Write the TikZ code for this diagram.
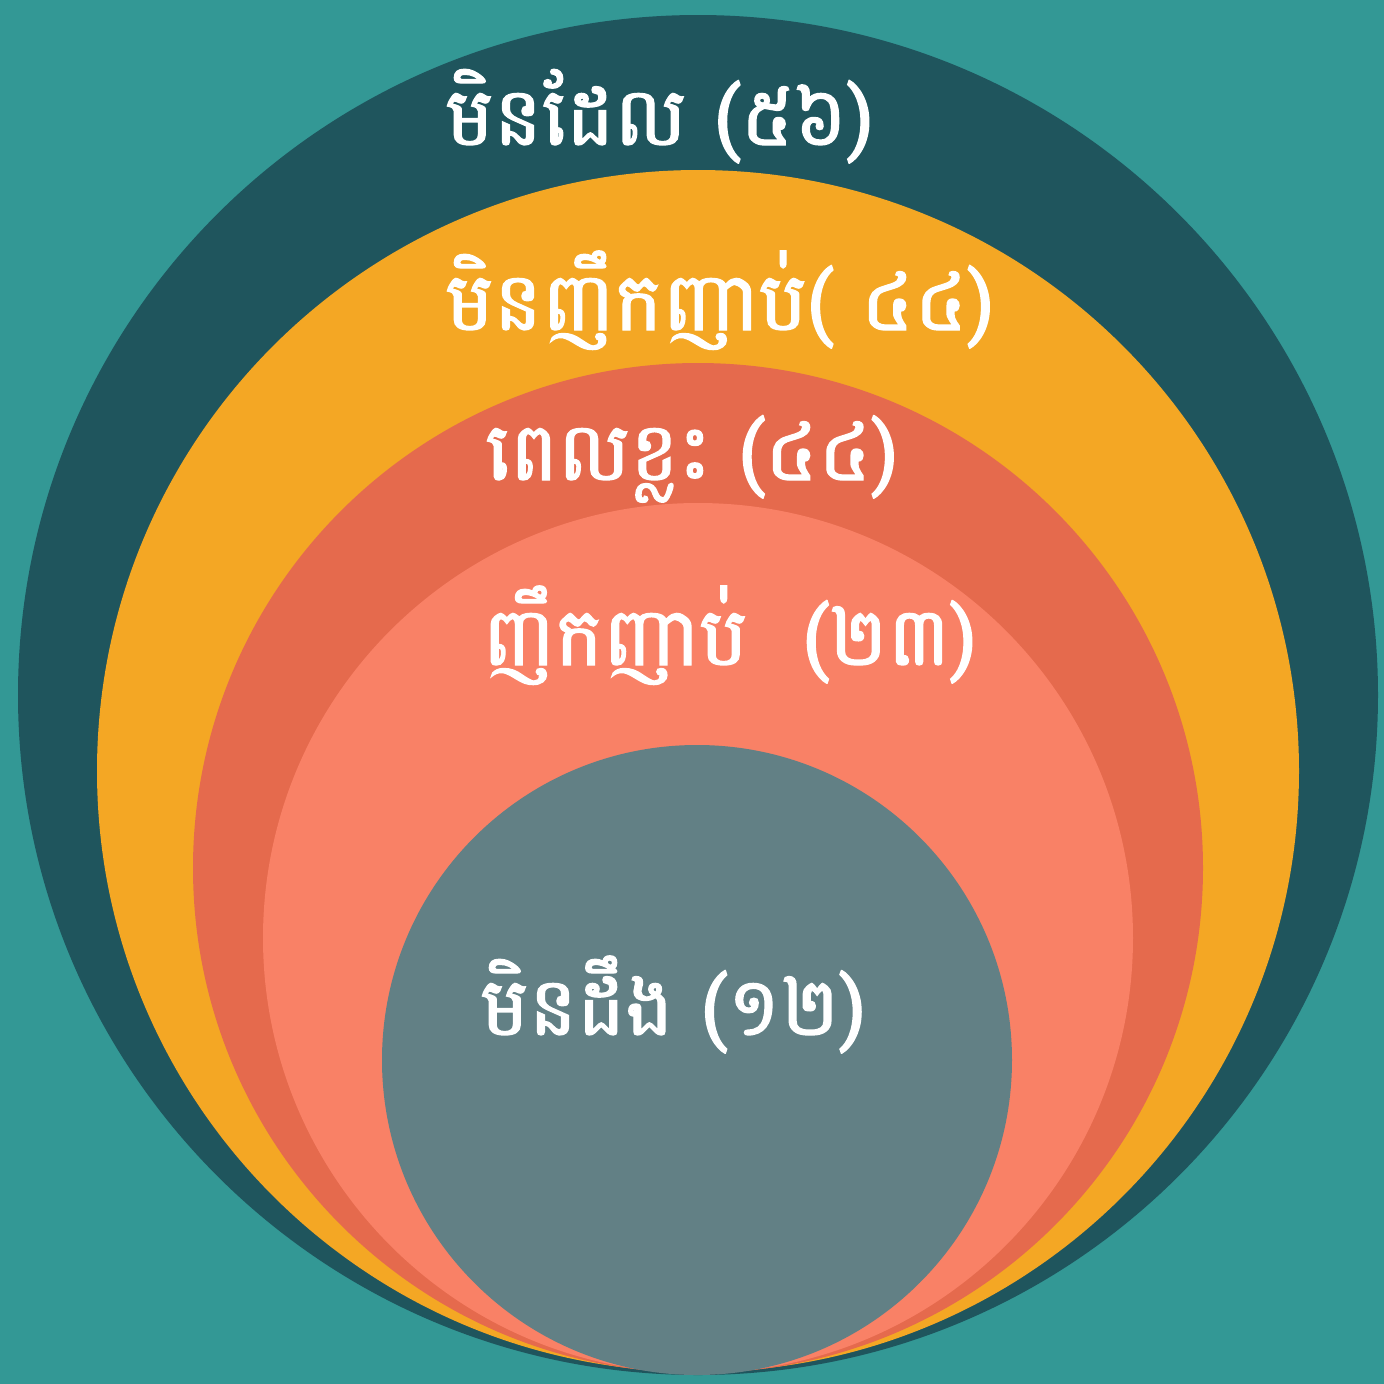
\documentclass[tikz,border=0pt]{standalone}
\usepackage{fontspec}
\newfontfamily\khmer[Script=Khmer,FakeBold=1.6]{Battambang}
\definecolor{bgteal}{HTML}{339895}
\definecolor{darkteal}{HTML}{1F555D}
\definecolor{orangec}{HTML}{F4A724}
\definecolor{redc}{HTML}{E56A4D}
\definecolor{coralc}{HTML}{F98166}
\definecolor{grayc}{HTML}{628085}
\tikzset{lbl/.style={text=white,font=\khmer\fontsize{23}{26}\selectfont,anchor=base west,inner sep=0pt}}
\begin{document}
\begin{tikzpicture}[x=0.01cm,y=-0.01cm]
\fill[bgteal] (0,0) rectangle (1384,1384);
\useasboundingbox (0,0) rectangle (1384,1384);
\fill[darkteal] (698,695) circle[radius=680];
\fill[orangec] (698,771) circle[radius=601];
\fill[redc] (698,868) circle[radius=505];
\fill[coralc] (698,938) circle[radius=435];
\fill[grayc] (697,1060) circle[radius=315];
\node[lbl] (t1) at (445,145) {មិនដែល (៥៦)};
\node[lbl] (t2) at (445,330) {មិនញឹកញាប់( ៤៤)};
\node[lbl] (t3) at (485,480) {ពេលខ្លះ (៤៤)};
\node[lbl] (t4) at (482,665) {ញឹកញាប់\hspace{0.55cm}(២៣)};
\node[lbl] (t5) at (480,1035) {មិនដឹង (១២)};
\end{tikzpicture}
\end{document}
